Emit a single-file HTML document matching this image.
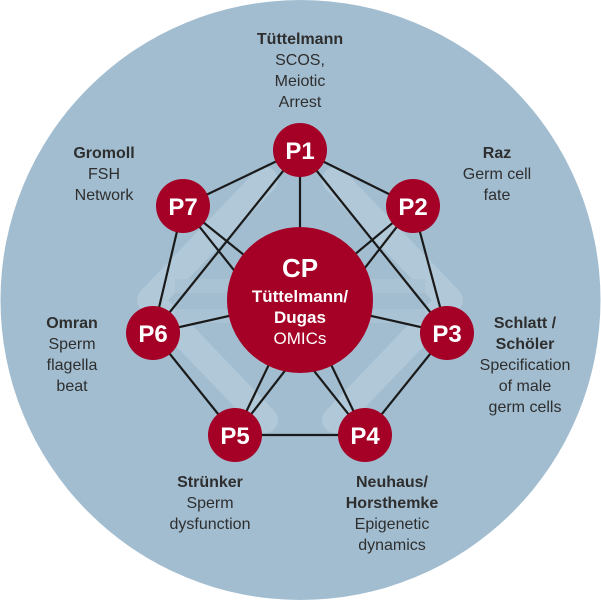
<!DOCTYPE html>
<html><head><meta charset="utf-8"><style>
html,body{margin:0;padding:0;background:#fff;}
svg{display:block;}
text{font-family:"Liberation Sans","DejaVu Sans",sans-serif;}
</style></head><body>
<svg width="601" height="600" viewBox="0 0 601 600" xmlns="http://www.w3.org/2000/svg">
<circle cx="300.5" cy="300" r="300" fill="#a2bdd0"/>
<g fill="none" stroke="#b0c8d8" stroke-width="26" stroke-linejoin="round" stroke-linecap="round">
<path d="M265 180 L150 300 L265 420"/>
<path d="M335 180 L450 300 L335 420"/>
</g>
<g fill="none" stroke="#aac3d4" stroke-width="14">
<line x1="175" y1="286" x2="425" y2="286"/>
<line x1="175" y1="316" x2="425" y2="316"/>
</g>
<g stroke="#1a1a1a" stroke-width="2.2">
<line x1="300" y1="150" x2="413" y2="206"/>
<line x1="300" y1="150" x2="183" y2="206"/>
<line x1="300" y1="150" x2="300" y2="300"/>
<line x1="300" y1="150" x2="447" y2="333"/>
<line x1="300" y1="150" x2="153" y2="333"/>
<line x1="413" y1="206" x2="447" y2="333"/>
<line x1="413" y1="206" x2="300" y2="300"/>
<line x1="413" y1="206" x2="235" y2="435"/>
<line x1="183" y1="206" x2="153" y2="333"/>
<line x1="183" y1="206" x2="300" y2="300"/>
<line x1="183" y1="206" x2="365" y2="435"/>
<line x1="447" y1="333" x2="300" y2="300"/>
<line x1="447" y1="333" x2="365" y2="435"/>
<line x1="153" y1="333" x2="300" y2="300"/>
<line x1="153" y1="333" x2="235" y2="435"/>
<line x1="235" y1="435" x2="365" y2="435"/>
<line x1="235" y1="435" x2="300" y2="300"/>
<line x1="365" y1="435" x2="300" y2="300"/>
</g>
<g fill="#a50026">
<circle cx="300" cy="300" r="73"/>
<circle cx="300" cy="150" r="27"/>
<circle cx="413" cy="206" r="27"/>
<circle cx="447" cy="333" r="27"/>
<circle cx="365" cy="435" r="27"/>
<circle cx="235" cy="435" r="27"/>
<circle cx="153" cy="333" r="27"/>
<circle cx="183" cy="206" r="27"/>
</g>
<g fill="#fff" font-weight="bold" font-size="24" text-anchor="middle">
<text x="300" y="159">P1</text>
<text x="413" y="215">P2</text>
<text x="447" y="342">P3</text>
<text x="365" y="444">P4</text>
<text x="235" y="444">P5</text>
<text x="153" y="342">P6</text>
<text x="183" y="215">P7</text>
<text x="300" y="277" font-size="26">CP</text>
<text x="300" y="302" font-size="17">Tüttelmann/</text>
<text x="300" y="323" font-size="17">Dugas</text>
<text x="300" y="344" font-size="17" font-weight="normal">OMICs</text>
</g>
<g fill="#2e2e2e" font-size="16" text-anchor="middle">
<text x="300" y="44" font-weight="bold">Tüttelmann</text>
<text x="300" y="65">SCOS,</text>
<text x="300" y="86">Meiotic</text>
<text x="300" y="107">Arrest</text>
<text x="104" y="158" font-weight="bold">Gromoll</text>
<text x="104" y="179">FSH</text>
<text x="104" y="200">Network</text>
<text x="497" y="158" font-weight="bold">Raz</text>
<text x="497" y="179">Germ cell</text>
<text x="497" y="200">fate</text>
<text x="72" y="328" font-weight="bold">Omran</text>
<text x="72" y="349">Sperm</text>
<text x="72" y="370">flagella</text>
<text x="72" y="391">beat</text>
<text x="525" y="328" font-weight="bold">Schlatt /</text>
<text x="525" y="349" font-weight="bold">Schöler</text>
<text x="525" y="370">Specification</text>
<text x="525" y="391">of male</text>
<text x="525" y="412">germ cells</text>
<text x="210" y="487" font-weight="bold">Strünker</text>
<text x="210" y="508">Sperm</text>
<text x="210" y="529">dysfunction</text>
<text x="392" y="487" font-weight="bold">Neuhaus/</text>
<text x="392" y="508" font-weight="bold">Horsthemke</text>
<text x="392" y="529">Epigenetic</text>
<text x="392" y="550">dynamics</text>
</g>
</svg>
</body></html>
